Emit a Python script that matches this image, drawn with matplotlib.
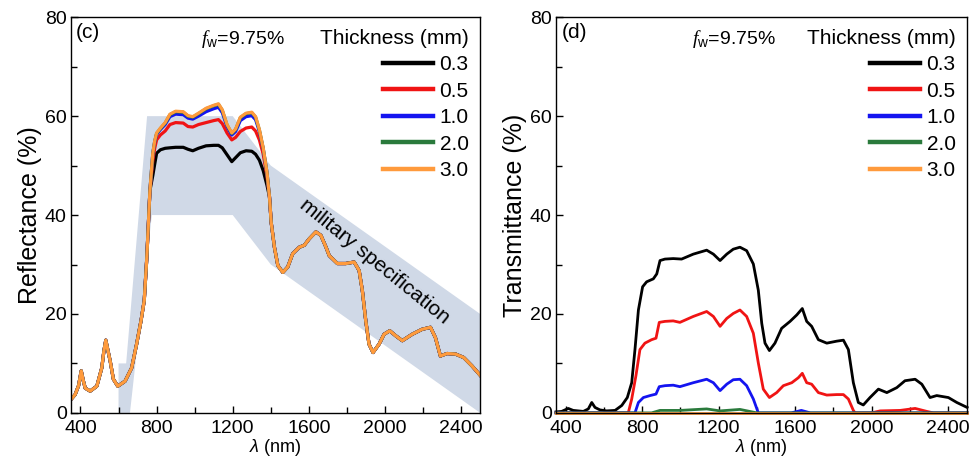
import numpy as np
import matplotlib
matplotlib.use("Agg")
import matplotlib.pyplot as plt


plt.rcParams["font.family"] = ["Liberation Sans", "DejaVu Sans"]
plt.rcParams["mathtext.fontset"] = "custom"
plt.rcParams["mathtext.rm"] = "Liberation Sans"
plt.rcParams["mathtext.it"] = "Liberation Sans:italic"
# the f in f_w is a serif italic in the original
plt.rcParams["mathtext.cal"] = "Liberation Serif:italic"


THICKNESS = ["0.3", "0.5", "1.0", "2.0", "3.0"]
COLORS = ["#000000", "#f01414", "#1414f0", "#2a7a3c", "#ff9a3c"]

# --- (c) reflectance: shared short-wavelength part, per-thickness plateau, shared tail
LAM_R_LOW = [350, 372, 390, 404, 415, 425, 451, 486, 512, 523, 533, 545, 556,
             573, 596, 634, 669, 695, 718, 735, 748, 765]
R_LOW = [2.7, 3.7, 5.5, 8.5, 6.5, 5.0, 4.4, 5.4, 9.1, 12.5, 14.7, 12.5, 10.5,
         6.8, 5.4, 6.4, 9.1, 13.9, 18.6, 22.7, 31.0, 45.0]

LAM_R_MID = [780, 790, 800, 820, 845, 870, 900, 940, 965, 990, 1020, 1060, 1100,
             1125, 1145, 1170, 1195, 1215, 1240, 1270, 1300, 1320, 1340, 1360, 1380]
R_MID_03 = [48.0, 50.3, 52.5, 53.2, 53.5, 53.6, 53.7, 53.7, 53.3, 53.0, 53.5, 54.0, 54.1,
            54.1, 53.6, 52.2, 50.8, 51.6, 52.6, 53.0, 52.9, 52.3, 51.1, 49.0, 46.0]
R_MID_05 = [51.0, 53.5, 55.2, 56.2, 57.0, 58.3, 58.7, 58.6, 57.9, 57.8, 58.3, 58.7, 59.1,
            59.3, 58.5, 56.6, 55.2, 55.7, 56.9, 57.6, 57.8, 57.0, 55.2, 52.3, 47.8]
R_MID_10 = [52.4, 54.8, 56.3, 57.3, 58.3, 59.9, 60.4, 60.3, 59.6, 59.4, 60.0, 60.9, 61.5,
            61.8, 60.7, 57.9, 56.2, 56.9, 59.1, 59.9, 60.1, 59.3, 56.9, 53.4, 48.5]
R_MID_20 = [52.5, 54.9, 56.5, 57.5, 58.6, 60.3, 60.9, 60.8, 60.0, 59.8, 60.5, 61.5, 62.1,
            62.4, 61.2, 58.2, 56.5, 57.3, 59.7, 60.5, 60.7, 59.8, 57.2, 53.5, 48.6]
R_MID_30 = [52.5, 55.0, 56.6, 57.6, 58.7, 60.4, 61.0, 60.9, 60.1, 59.9, 60.6, 61.6, 62.2,
            62.5, 61.3, 58.3, 56.6, 57.4, 59.8, 60.6, 60.8, 59.9, 57.3, 53.6, 48.6]

LAM_R_TAIL = [1393, 1402, 1419, 1437, 1463, 1489, 1515, 1550, 1576, 1602, 1637, 1663,
              1690, 1707, 1750, 1794, 1838, 1864, 1881, 1899, 1916, 1937, 1969, 1995,
              2025, 2056, 2091, 2143, 2195, 2239, 2265, 2291, 2326, 2370, 2413, 2457, 2500]
R_TAIL = [43.7, 38.5, 33.5, 29.8, 28.4, 29.5, 32.2, 33.5, 33.9, 35.2, 36.6, 35.9,
          33.5, 31.8, 30.2, 30.2, 30.5, 28.8, 24.7, 18.6, 13.9, 12.2, 13.9, 15.9,
          16.6, 15.6, 14.6, 15.9, 16.9, 17.3, 15.2, 11.5, 12.0, 11.9, 11.2, 9.5, 7.6]

# military specification band
SPEC_LAM = [600, 640, 750, 1200, 1400, 2500, 2500, 1400, 1200, 775, 660, 600]
SPEC_R = [10, 10, 60, 60, 50, 20, 0, 30, 40, 40, 0, 0]

# --- (d) transmittance
LAM_T03 = [350, 380, 414, 440, 493, 519, 537, 554, 580, 615, 659, 694, 723, 746, 763,
           781, 803, 824, 859, 877, 894, 920, 963, 1007, 1068, 1138, 1173, 1208, 1243,
           1277, 1312, 1347, 1382, 1408, 1426, 1443, 1466, 1495, 1530, 1574, 1609, 1638,
           1661, 1687, 1722, 1766, 1818, 1853, 1879, 1905, 1931, 1957, 1992, 2036, 2080,
           2132, 2175, 2228, 2263, 2306, 2341, 2402, 2446, 2500]
T03 = [0.2, 0.3, 0.9, 0.5, 0.3, 0.8, 2.1, 1.1, 0.6, 0.4, 0.5, 1.5, 3.1, 6.1, 12.8,
       20.8, 25.5, 26.5, 27.1, 28.1, 30.8, 31.1, 31.2, 31.1, 32.1, 32.9, 32.1, 30.8, 32.1,
       33.1, 33.5, 32.8, 30.1, 24.8, 18.1, 14.1, 12.6, 14.1, 17.1, 18.5, 19.8, 21.1,
       18.5, 17.5, 14.8, 14.1, 14.5, 14.7, 12.8, 6.1, 2.1, 1.6, 3.1, 4.8, 4.1,
       5.1, 6.5, 6.8, 5.8, 3.1, 3.5, 3.1, 2.1, 1.1]

LAM_T05 = [350, 728, 746, 768, 789, 815, 850, 873, 890, 920, 963, 998, 1068, 1138, 1173,
           1208, 1243, 1277, 1312, 1347, 1382, 1408, 1434, 1466, 1504, 1539, 1583, 1617,
           1638, 1661, 1687, 1722, 1766, 1818, 1853, 1879, 1905, 1914, 2000, 2045, 2150,
           2228, 2289, 2323, 2500]
T05 = [0, 0, 2.8, 7.5, 12.8, 14.1, 14.8, 15.1, 18.3, 18.5, 18.6, 18.3, 19.5, 20.5, 19.5,
       17.5, 19.1, 20.1, 20.8, 19.5, 16.1, 10.1, 4.8, 3.1, 4.1, 5.5, 6.1, 7.1,
       8.0, 6.1, 5.8, 4.1, 3.6, 3.7, 3.7, 2.8, 0.5, 0, 0, 0.4, 0.5,
       0.9, 0.3, 0, 0]

LAM_T10 = [350, 763, 781, 807, 842, 873, 890, 920, 963, 998, 1068, 1138, 1173, 1208,
           1243, 1277, 1312, 1347, 1382, 1408, 1580, 1633, 1680, 2500]
T10 = [0, 0, 2.1, 3.1, 3.5, 3.8, 5.3, 5.5, 5.6, 5.3, 6.1, 6.8, 6.1, 4.5,
       5.8, 6.7, 6.8, 5.5, 2.8, 0, 0, 0.5, 0, 0]

LAM_T20 = [350, 850, 894, 1000, 1138, 1208, 1312, 1400, 2500]
T20 = [0, 0, 0.5, 0.5, 0.8, 0.4, 0.7, 0, 0]

LAM_T30 = [350, 2500]
T30 = [0, 0]


def style_axes(ax, ylabel):
    ax.set_xlim(350, 2500)
    ax.set_ylim(0, 80)
    ax.set_xticks([400, 800, 1200, 1600, 2000, 2400])
    ax.set_xticks([600, 1000, 1400, 1800, 2200], minor=True)
    ax.set_yticks([0, 20, 40, 60, 80])
    ax.set_yticks([10, 30, 50, 70], minor=True)
    ax.tick_params(which="both", direction="in", top=False, right=False,
                   labelsize=14)
    ax.tick_params(axis="x", which="both", pad=5)
    ax.tick_params(axis="y", which="both", pad=3)
    ax.tick_params(which="major", length=5, width=1)
    ax.tick_params(which="minor", length=4, width=1)
    for sp in ax.spines.values():
        sp.set_linewidth(1)
    ax.set_xlabel(r"$\lambda$ (nm)", fontsize=13, labelpad=0)
    ax.set_ylabel(ylabel, fontsize=18, labelpad=2)


def add_legend(ax, lw):
    leg = ax.legend(loc="upper right", bbox_to_anchor=(1.0, 1.0), frameon=False,
                    title="Thickness (mm)", fontsize=15, title_fontsize=15,
                    handlelength=2.4, handletextpad=0.3, labelspacing=0.36,
                    borderaxespad=0.25, borderpad=0.3, alignment="right")
    for line in leg.get_lines():
        line.set_linewidth(lw)


def main():
    fig = plt.figure(figsize=(9.72, 4.66), dpi=100)
    ax1 = fig.add_axes([0.073, 0.114, 0.421, 0.849])
    ax2 = fig.add_axes([0.572, 0.114, 0.423, 0.849])

    # (c) reflectance
    ax1.fill(SPEC_LAM, SPEC_R, color="#d0d9e7", lw=0, zorder=0)
    mids = [R_MID_03, R_MID_05, R_MID_10, R_MID_20, R_MID_30]
    lam_r = np.concatenate([LAM_R_LOW, LAM_R_MID, LAM_R_TAIL])
    for label, color, mid in zip(THICKNESS, COLORS, mids):
        r = np.concatenate([R_LOW, mid, R_TAIL])
        ax1.plot(lam_r, r, color=color, lw=2.3, label=label)
    style_axes(ax1, "Reflectance (%)")
    add_legend(ax1, 3.2)
    ax1.text(0.012, 0.985, "(c)", transform=ax1.transAxes, fontsize=15,
             ha="left", va="top")
    ax1.text(0.318, 0.945, r"$\mathcal{f}_{\rm w}$=9.75%", transform=ax1.transAxes,
             fontsize=14, ha="left", va="center")
    ax1.text(1946, 30.7, "military specification", fontsize=15, rotation=-39,
             rotation_mode="anchor", ha="center", va="center")

    # (d) transmittance
    series_t = [(LAM_T03, T03), (LAM_T05, T05), (LAM_T10, T10),
                (LAM_T20, T20), (LAM_T30, T30)]
    for label, color, (lam, t) in zip(THICKNESS, COLORS, series_t):
        ax2.plot(lam, t, color=color, lw=2.0, label=label, clip_on=False)
    style_axes(ax2, "Transmittance (%)")
    add_legend(ax2, 3.2)
    ax2.text(0.014, 0.985, "(d)", transform=ax2.transAxes, fontsize=15,
             ha="left", va="top")
    ax2.text(0.33, 0.945, r"$\mathcal{f}_{\rm w}$=9.75%", transform=ax2.transAxes,
             fontsize=14, ha="left", va="center")

    fig.savefig("out.png", dpi=100)
    plt.close(fig)


if __name__ == "__main__":
    main()
